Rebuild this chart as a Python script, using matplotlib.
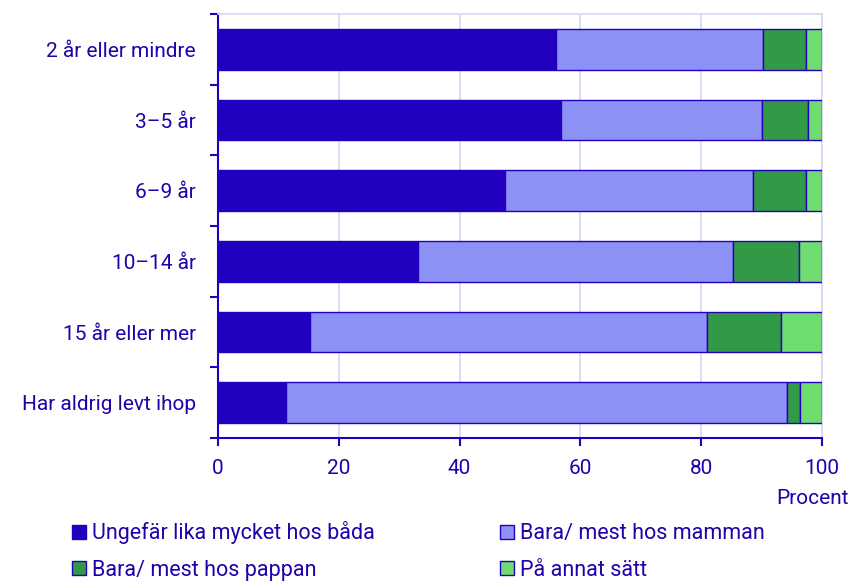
import numpy as np
import matplotlib.pyplot as plt
from matplotlib.patches import Patch

plt.rcParams["font.family"] = ["Roboto", "DejaVu Sans"]

categories = ["2 år eller mindre", "3\u20135 år", "6\u20139 år", "10\u201314 år",
              "15 år eller mer", "Har aldrig levt ihop"]
series_names = ["Ungefär lika mycket hos båda", "Bara/ mest hos mamman",
                "Bara/ mest hos pappan", "På annat sätt"]
lika = [55.9, 56.8, 47.5, 33.1, 15.3, 11.3]
mamman = [34.3, 33.2, 41.1, 52.2, 65.7, 82.9]
pappan = [7.2, 7.7, 8.7, 10.9, 12.2, 2.2]
annat = [2.6, 2.3, 2.7, 3.8, 6.8, 3.6]
xticks = [0, 20, 40, 60, 80, 100]

TEXT = "#2200AA"
EDGE = "#2200C0"
colors = ["#2200C0", "#8C91F5", "#329A46", "#6EDC6E"]

fig = plt.figure(figsize=(8.51, 5.81), dpi=100)
ax = fig.add_axes([218 / 851, 1 - 438 / 581, 604 / 851, 424 / 581])

y = np.arange(len(categories))
left = np.zeros(len(categories))
for vals, col, name in zip([lika, mamman, pappan, annat], colors, series_names):
    ax.barh(y, vals, left=left, height=0.58, color=col, edgecolor=EDGE,
            linewidth=1.0, label=name, zorder=3)
    left += np.array(vals)

ax.set_xlim(0, 100)
ax.set_ylim(len(categories) - 0.5, -0.5)
ax.set_xticks(xticks)
ax.set_xticklabels([str(t) for t in xticks])
ax.set_yticks(y)
ax.set_yticklabels(categories)
ax.set_yticks(np.arange(-0.5, len(categories)), minor=True)

ax.grid(axis="x", color="#D8D8F0", linewidth=1.2, zorder=0)
for s in ["top", "right"]:
    ax.spines[s].set_color("#D8D8F0")
    ax.spines[s].set_linewidth(1.2)
for s in ["left", "bottom"]:
    ax.spines[s].set_color(EDGE)
    ax.spines[s].set_linewidth(1.5)

ax.tick_params(axis="y", which="major", length=0, pad=16, labelsize=15, labelcolor=TEXT)
ax.tick_params(axis="y", which="minor", length=6, width=1.5, color=EDGE, direction="out")
ax.tick_params(axis="x", length=6, width=1.5, color=EDGE, pad=9, labelsize=15, labelcolor=TEXT)

fig.text(849 / 851, 1 - 498 / 581, "Procent", ha="right", va="center",
         fontsize=15, color=TEXT)

# legend fills column-wise, so order handles to get row-wise layout
order = [0, 2, 1, 3]
handles = [Patch(facecolor=colors[i], edgecolor=EDGE, linewidth=1.0) for i in order]
labels = [series_names[i] for i in order]
fig.legend(handles, labels, loc="upper left", bbox_to_anchor=(53 / 851, 1 - 502 / 581),
           ncol=2, frameon=False, fontsize=15.5, labelcolor=TEXT,
           handlelength=0.65, handleheight=0.65, handletextpad=0.28,
           columnspacing=5.8, labelspacing=0.72)

fig.savefig("out.png", dpi=100)
